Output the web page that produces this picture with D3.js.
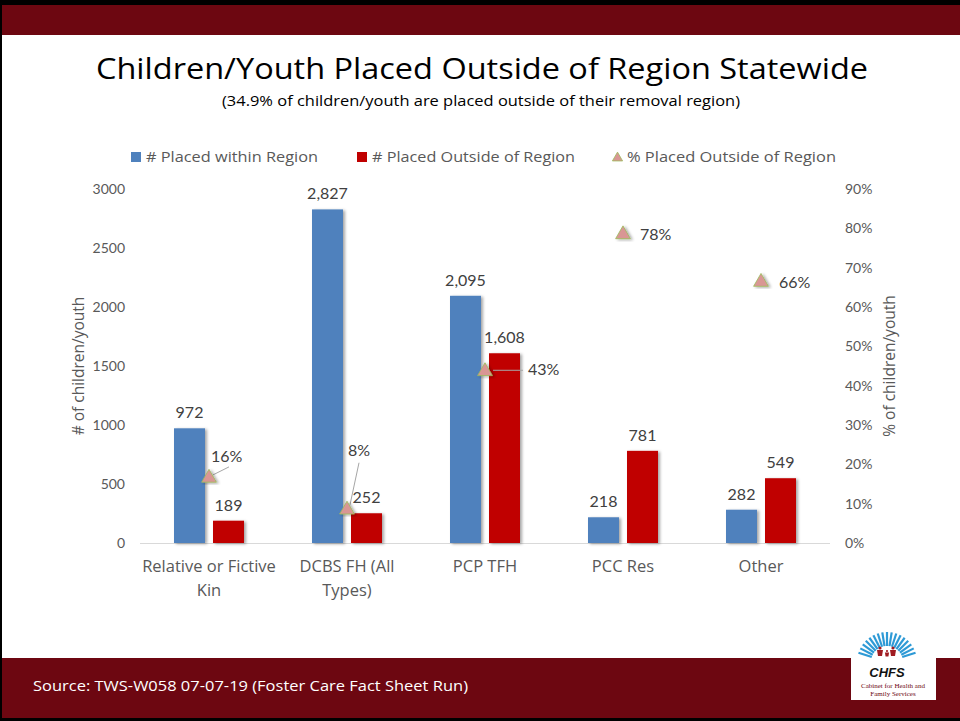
<!DOCTYPE html>
<html><head><meta charset="utf-8">
<script src="https://cdn.jsdelivr.net/npm/d3@7"></script>
<style>
html,body{margin:0;padding:0;background:#fff;}
svg{display:block;font-family:"Open Sans",Lato,sans-serif;}
</style></head>
<body>
<svg id="c" width="960" height="721"></svg>
<script>
const categories = [["Relative or Fictive","Kin"],["DCBS FH (All","Types)"],["PCP TFH"],["PCC Res"],["Other"]];
const withinRegion = [972, 2827, 2095, 218, 282];
const outsideRegion = [189, 252, 1608, 781, 549];
const pctOutside = [16.3, 8.2, 43.4, 78.2, 66.1];
const pctLabels = ["16%","8%","43%","78%","66%"];
const leftTicks = [0,500,1000,1500,2000,2500,3000];
const rightTicks = [0,10,20,30,40,50,60,70,80,90];

const svg = d3.select("#c");
const W=960,H=721;
const maroon="#6D0711", blue="#4F81BD", red="#C00000", txt="#595959", lbl="#404040";
const LATO="Lato,sans-serif";

// frame
svg.append("rect").attr("x",0).attr("y",0).attr("width",W).attr("height",H).attr("fill","#fff");
svg.append("rect").attr("x",0).attr("y",0).attr("width",W).attr("height",5).attr("fill","#000");
svg.append("rect").attr("x",0).attr("y",5).attr("width",W).attr("height",30).attr("fill",maroon);
svg.append("rect").attr("x",0).attr("y",658).attr("width",W).attr("height",60).attr("fill",maroon);
svg.append("rect").attr("x",0).attr("y",718).attr("width",W).attr("height",3).attr("fill","#000");
svg.append("rect").attr("x",0).attr("y",0).attr("width",2).attr("height",H).attr("fill","#000");

// titles
svg.append("text").attr("x",482).attr("y",79).attr("text-anchor","middle").attr("font-size",30).attr("fill","#000")
  .attr("textLength",772).attr("lengthAdjust","spacingAndGlyphs")
  .text("Children/Youth Placed Outside of Region Statewide");
svg.append("text").attr("x",481).attr("y",106).attr("text-anchor","middle").attr("font-size",15).attr("fill","#000")
  .attr("textLength",518).attr("lengthAdjust","spacingAndGlyphs")
  .text("(34.9% of children/youth are placed outside of their removal region)");

// scales
const x0 = d3.scaleBand().domain(d3.range(categories.length)).range([140,830]);
const yL = d3.scaleLinear().domain([0,3000]).range([543,189]);
const yR = d3.scaleLinear().domain([0,90]).range([543,189]);
const barW = 31, gap = 8;

const defs = svg.append("defs");
const f = defs.append("filter").attr("id","sh").attr("x","-30%").attr("y","-10%").attr("width","160%").attr("height","130%");
f.append("feDropShadow").attr("dx",2).attr("dy",1).attr("stdDeviation",1.5).attr("flood-color","#000").attr("flood-opacity",0.35);

// axes
const gL = svg.append("g").attr("transform","translate(140,0)")
  .call(d3.axisLeft(yL).tickValues(leftTicks).tickSize(0).tickPadding(15).tickFormat(d3.format("d")));
gL.select(".domain").remove();
gL.selectAll("text").attr("font-size",14).attr("fill",txt).attr("font-family",LATO);
const gR = svg.append("g").attr("transform","translate(830,0)")
  .call(d3.axisRight(yR).tickValues(rightTicks).tickSize(0).tickPadding(15).tickFormat(d=>d+"%"));
gR.select(".domain").remove();
gR.selectAll("text").attr("font-size",14).attr("fill",txt).attr("font-family",LATO);

svg.append("line").attr("x1",140).attr("x2",830).attr("y1",yL(0)+0.5).attr("y2",yL(0)+0.5).attr("stroke","#D9D9D9").attr("stroke-width",1);

svg.append("text").attr("transform","translate(84,366) rotate(-90)").attr("text-anchor","middle")
  .attr("font-size",15.5).attr("fill",txt).text("# of children/youth");
svg.append("text").attr("transform","translate(895,366) rotate(-90)").attr("text-anchor","middle")
  .attr("font-size",15.5).attr("fill",txt).text("% of children/youth");

// category labels
const cx = i => x0(i)+x0.bandwidth()/2;
categories.forEach((lines,i)=>{
  lines.forEach((l,j)=>{
    svg.append("text").attr("x",cx(i)).attr("y",572+j*24).attr("text-anchor","middle")
      .attr("font-size",16.5).attr("fill",txt).text(l);
  });
});

const fmt = d3.format(",");
// bars
svg.append("g").selectAll("rect").data(withinRegion).join("rect")
  .attr("x",(d,i)=>cx(i)-gap/2-barW).attr("width",barW)
  .attr("y",d=>yL(d)).attr("height",d=>yL(0)-yL(d)).attr("fill",blue).attr("filter","url(#sh)");
svg.append("g").selectAll("rect").data(outsideRegion).join("rect")
  .attr("x",(d,i)=>cx(i)+gap/2).attr("width",barW)
  .attr("y",d=>yL(d)).attr("height",d=>yL(0)-yL(d)).attr("fill",red).attr("filter","url(#sh)");
svg.append("g").selectAll("text").data(withinRegion).join("text")
  .attr("x",(d,i)=>cx(i)-gap/2-barW/2).attr("y",d=>yL(d)-10).attr("text-anchor","middle")
  .attr("font-size",16).attr("font-family",LATO).attr("fill",lbl).text(d=>fmt(d));
svg.append("g").selectAll("text").data(outsideRegion).join("text")
  .attr("x",(d,i)=>cx(i)+gap/2+barW/2).attr("y",d=>yL(d)-10).attr("text-anchor","middle")
  .attr("font-size",16).attr("font-family",LATO).attr("fill",lbl).text(d=>fmt(d));

// pct label offsets (x start, baseline relative to marker)
const pctOff = [[2,-17],[1,-55],[43,3],[17,5],[18,5]];
const lead = [[[4,-4],[20,-12]],[[3,-6],[12,-48]],[[8,-2],[38,-2]],null,null];
pctOutside.forEach((p,i)=>{
  const tx=cx(i), ty=yR(p);
  if(lead[i]) svg.append("line").attr("x1",tx+lead[i][0][0]).attr("y1",ty+lead[i][0][1])
      .attr("x2",tx+lead[i][1][0]).attr("y2",ty+lead[i][1][1]).attr("stroke","#A6A6A6").attr("stroke-width",1);
});
// triangles
const tri = d3.symbol().type(d3.symbolTriangle).size(95);
svg.append("g").selectAll("path").data(pctOutside).join("path")
  .attr("transform",(d,i)=>`translate(${cx(i)},${yR(d)-1})`).attr("d",tri)
  .attr("fill","#D99694").attr("stroke","#9BBB59").attr("stroke-width",0.8).attr("filter","url(#sh)");
svg.append("g").selectAll("text").data(pctOutside).join("text")
  .attr("x",(d,i)=>cx(i)+pctOff[i][0]).attr("y",(d,i)=>yR(d)+pctOff[i][1])
  .attr("font-size",16).attr("font-family",LATO).attr("fill",lbl).text((d,i)=>pctLabels[i]);

// legend
const lg = svg.append("g");
lg.append("rect").attr("x",131).attr("y",152).attr("width",10).attr("height",10).attr("fill",blue);
lg.append("text").attr("x",146).attr("y",162).attr("font-size",15).attr("fill",txt)
  .attr("textLength",172).attr("lengthAdjust","spacingAndGlyphs").text("# Placed within Region");
lg.append("rect").attr("x",357).attr("y",152).attr("width",10).attr("height",10).attr("fill",red);
lg.append("text").attr("x",372).attr("y",162).attr("font-size",15).attr("fill",txt)
  .attr("textLength",203).attr("lengthAdjust","spacingAndGlyphs").text("# Placed Outside of Region");
lg.append("path").attr("transform","translate(617.5,158)").attr("d",d3.symbol().type(d3.symbolTriangle).size(45))
  .attr("fill","#D99694").attr("stroke","#9BBB59").attr("stroke-width",0.8);
lg.append("text").attr("x",627).attr("y",162).attr("font-size",15).attr("fill",txt)
  .attr("textLength",209).attr("lengthAdjust","spacingAndGlyphs").text("% Placed Outside of Region");

// source
svg.append("text").attr("x",33).attr("y",691).attr("font-size",15).attr("fill","#fff")
  .attr("textLength",435).attr("lengthAdjust","spacingAndGlyphs")
  .text("Source: TWS-W058 07-07-19 (Foster Care Fact Sheet Run)");

// logo
const logo = svg.append("g");
logo.append("rect").attr("x",851).attr("y",658).attr("width",85).attr("height",42).attr("fill","#fff");
for(let k=0;k<17;k++){
  const a = Math.PI*(0.1+0.8*k/16);
  const r1=16, r2=30, ox=887, oy=662;
  logo.append("line").attr("x1",ox-Math.cos(a)*r1).attr("y1",oy-Math.sin(a)*r1)
    .attr("x2",ox-Math.cos(a)*r2).attr("y2",oy-Math.sin(a)*r2).attr("stroke","#2E9AD6").attr("stroke-width",2.2);
}
const fig = (x,y,s)=>{
  logo.append("circle").attr("cx",x).attr("cy",y).attr("r",1.6*s).attr("fill","#A01C22");
  logo.append("path").attr("d",`M${x-3*s},${y+2*s} L${x+3*s},${y+2*s} L${x+2*s},${y+8*s} L${x-2*s},${y+8*s} Z`).attr("fill","#A01C22");
};
fig(880,648,1); fig(887,651,0.7); fig(893,648,1);
logo.append("text").attr("x",887).attr("y",677).attr("text-anchor","middle").attr("font-size",13).attr("font-weight","bold").attr("font-style","italic").attr("fill","#111").attr("font-family","Liberation Sans,sans-serif").text("CHFS");
logo.append("text").attr("x",893).attr("y",688).attr("text-anchor","middle").attr("font-size",7).attr("fill","#6D0711").attr("font-family","Liberation Serif,serif").text("Cabinet for Health and");
logo.append("text").attr("x",893).attr("y",696).attr("text-anchor","middle").attr("font-size",7).attr("fill","#6D0711").attr("font-family","Liberation Serif,serif").text("Family Services");
</script>
</body></html>
